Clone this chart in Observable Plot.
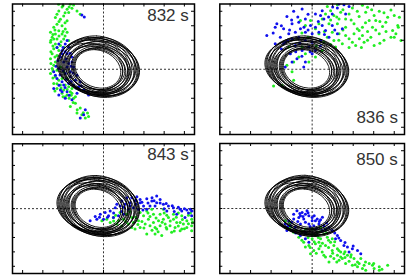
<!DOCTYPE html>
<html><head><meta charset="utf-8">
<script src="https://cdn.jsdelivr.net/npm/d3@7"></script>
<script src="https://cdn.jsdelivr.net/npm/@observablehq/plot@0.6"></script>
<style>
body{margin:0;background:#fff;}
#c{position:relative;width:410px;height:278px;overflow:hidden;background:#fff;}
#c svg{position:absolute;}
</style></head><body><div id="c"></div>
<script>
// Panel labels (time of snapshot)
const labels = ["832 s", "836 s", "843 s", "850 s"];
// Tick values (no labels shown)
const tickValues = [-4, -3, -2, -1, 0, 1, 2, 3, 4];

// Black orbit loops (left, top, right, bottom points of each loop), shared by all panels
const loops = [
  [[-2.30, 0.30], [-0.65, 2.00], [1.20, 0.10], [-0.45, -1.60]],
  [[-2.20, 0.30], [-0.50, 2.20], [1.40, 0.10], [-0.30, -1.80]],
  [[-2.05, 0.30], [-0.35, 2.30], [1.55, 0.10], [-0.15, -1.90]],
  [[-1.95, 0.18], [-0.20, 2.10], [1.75, -0.02], [0.00, -1.94]],
  [[-1.85, 0.12], [-0.20, 1.90], [1.65, -0.08], [0.00, -1.85]],
  [[-1.75, 0.12], [-0.22, 1.75], [1.50, -0.08], [-0.02, -1.70]],
  [[-2.15, 0.22], [-0.70, 1.80], [0.95, 0.02], [-0.50, -1.55]],
  [[-1.60, 0.10], [-0.22, 1.60], [1.35, -0.10], [-0.02, -1.60]],
  [[-1.50, 0.10], [-0.30, 1.45], [1.10, -0.10], [-0.10, -1.45]],
  [[-1.40, 0.12], [-0.38, 1.35], [0.85, -0.08], [-0.18, -1.30]],
  [[-1.90, 0.20], [-0.52, 1.60], [1.05, 0.00], [-0.32, -1.40]],
  [[-2.25, 0.30], [-0.42, 2.15], [1.60, 0.10], [-0.22, -1.75]],
  [[-1.70, 0.18], [-0.06, 1.95], [1.78, -0.02], [0.14, -1.80]],
  [[-1.45, 0.10], [-0.20, 1.50], [1.25, -0.10], [0.00, -1.50]],
  [[-2.10, 0.25], [-0.45, 2.05], [1.30, 0.05], [-0.25, -1.70]],
  [[-1.80, 0.15], [-0.30, 1.70], [1.20, -0.05], [-0.10, -1.65]],
  [[-2.00, 0.20], [-0.15, 2.20], [1.70, 0.00], [0.05, -1.85]],
  [[-1.55, 0.12], [-0.40, 1.40], [0.95, -0.05], [-0.20, -1.40]]
];

// 832 s
const green832 = [[-2.22,4.48],[-1.64,4.48],[-1.48,4.43],[-2.05,4.30],[-1.80,4.14],[-1.56,4.20],[-2.21,4.02],[-1.72,3.91],[-1.97,3.68],[-2.38,3.57],[-2.13,3.45],[-1.80,3.34],[-2.30,3.11],[-2.05,3.00],[-2.46,2.89],[-1.89,2.77],[-2.21,2.66],[-2.62,2.55],[-2.38,2.43],[-2.05,2.43],[-1.80,2.55],[-2.54,2.20],[-2.30,2.09],[-1.97,2.09],[-2.62,1.86],[-2.38,1.75],[-2.13,1.64],[-2.46,1.41],[-2.21,1.30],[-2.54,1.07],[-2.30,0.95],[-2.62,0.73],[-2.38,0.50],[-2.46,0.27],[-2.62,-0.30],[-2.38,-0.52],[-2.21,-0.75],[-2.46,-0.98],[-2.13,-1.09],[-2.30,-1.32],[-1.97,-1.43],[-1.80,-1.77],[-1.56,-1.66],[-1.48,-2.00],[-1.64,-2.57],[-1.15,-2.68],[-1.31,-3.02],[-1.07,-3.14],[-0.74,-3.25],[-0.90,-3.36],[-0.79,-3.02],[-2.13,0.16],[-1.97,-0.18],[-1.80,-0.64],[-1.72,-1.20],[-2.05,-1.66],[-1.89,-1.89],[-1.56,-1.32],[-1.39,-1.89],[-1.15,3.80],[-1.31,4.02],[-2.46,2.09],[-1.97,1.52],[-1.72,1.98],[-2.54,0.05],[-2.30,-0.07],[-2.05,-0.64],[-1.89,-1.09],[-1.64,-1.55],[-1.39,-2.34],
  [-2.0,4.4],[-1.7,4.3],[-2.3,3.8],[-1.9,3.9],[-2.2,3.3],[-1.9,3.2],[-2.4,2.7],[-2.0,2.6],[-2.5,2.4],[-2.2,2.3],[-1.9,2.3],[-2.6,2.0],[-2.1,1.9],[-2.5,1.6],[-2.3,1.5],[-2.6,1.2],[-2.4,0.85],[-2.6,0.4],[-2.5,-0.1],[-2.5,-0.6],[-2.3,-1.0],[-2.1,-1.3],[-1.8,-1.4],[-1.7,-2.0],[-1.5,-2.3],[-1.3,-2.8],[-1.0,-3.0],[-2.4,-1.5],[-2.0,-1.9],[-1.6,-1.8]];
const blue832 = [[-2.21,1.75],[-1.89,1.75],[-1.72,1.52],[-2.05,1.30],[-1.80,1.07],[-1.56,0.84],[-2.13,0.84],[-1.97,0.50],[-1.72,0.39],[-1.48,0.16],[-2.21,0.05],[-2.46,-0.18],[-1.89,-0.30],[-1.64,-0.18],[-1.31,-0.41],[-2.30,-0.64],[-2.05,-0.86],[-1.72,-0.98],[-1.48,-1.09],[-1.23,-1.20],[-0.98,-1.43],[-0.74,-1.77],[-2.13,-1.43],[-1.80,-1.55],[-1.89,-2.00],[-1.56,-2.11],[-2.46,-1.32],[-2.21,-1.77],[-0.90,-2.80],[-0.98,-3.14],[-1.15,-3.36],[-1.64,-0.52],[-1.39,-0.75],[-1.15,-0.86],[-1.07,3.75],[-0.95,3.61],[-2.05,1.07],[-1.80,0.16],[-2.38,-0.41],[-1.97,-1.09],[-1.31,-1.66],[-1.80,1.98],[-1.56,0.50],
  [-2.3,1.5],[-2.0,1.5],[-1.9,1.2],[-1.65,1.1],[-2.25,0.6],[-1.85,0.7],[-1.6,0.2],[-2.35,0.2],[-2.0,-0.1],[-1.5,-0.25],[-2.15,-0.4],[-1.85,-0.7],[-2.2,-1.1],[-1.6,-0.85],[-1.35,-1.3],[-1.9,-1.25],[-1.1,-1.15],[-1.7,-1.8],[-2.05,-1.55],[-0.8,-1.6]];

// 836 s
const green836 = [[0.74,4.32],[1.23,4.45],[1.96,4.22],[2.45,4.41],[2.70,4.27],[3.27,4.00],[3.84,4.09],[4.25,3.58],[4.17,3.01],[3.68,3.58],[3.02,3.70],[2.78,3.36],[2.29,3.63],[1.80,3.81],[1.39,3.93],[1.06,3.70],[0.65,3.81],[0.49,3.47],[0.33,3.13],[0.82,3.13],[1.23,3.13],[1.63,2.90],[2.04,3.13],[2.45,2.90],[2.94,2.90],[3.43,2.95],[3.92,2.67],[4.33,1.99],[3.84,2.21],[3.27,2.44],[2.86,2.21],[2.45,2.33],[2.04,2.44],[1.63,2.33],[1.31,2.44],[0.98,2.56],[0.74,2.21],[1.06,1.99],[1.47,1.76],[1.96,1.87],[2.53,1.87],[3.02,1.64],[2.12,1.64],[0.57,1.87],[0.33,2.44],[0.16,2.79],[-0.08,3.36],[-0.33,3.01],[-0.57,3.36],[0.49,1.30],[0.16,0.84],[-0.16,0.50],[-0.49,1.53],[1.63,3.47],[2.61,3.93],[3.59,3.24],[3.10,3.36],[4.08,2.44],[2.29,2.67],[1.31,3.47],[0.90,4.04],[1.80,2.10],[1.14,1.53],[-1.14,1.53],[-0.90,0.50],[-0.65,0.84],[-0.33,1.07],[-0.98,-0.18],[-1.47,-1.10],[-1.88,-1.16],[-0.90,-0.75],[-1.23,0.27],
  [1.5,4.1],[2.2,4.0],[2.9,4.1],[3.5,3.9],[4.0,3.7],[3.3,3.3],[2.6,3.2],[1.9,3.4],[1.2,3.6],[0.9,3.4],[1.5,2.7],[2.2,2.8],[2.7,2.6],[3.1,2.7],[3.6,2.6],[4.2,2.9],[3.5,2.0],[2.7,2.0],[2.3,2.1],[1.3,2.0],[0.9,1.7],[0.6,2.6],[0.4,2.0],[0.2,1.6],[-0.2,2.2],[-0.5,2.5],[1.8,1.5],[2.4,1.5],[3.3,1.8],[4.0,2.2]];
const blue836 = [[1.31,4.50],[1.55,4.45],[1.23,4.22],[1.80,4.32],[0.49,4.04],[0.16,3.81],[0.41,3.70],[0.57,3.47],[-0.49,4.16],[-0.90,4.00],[-1.23,3.63],[-1.72,3.13],[-1.80,2.90],[-1.39,2.79],[-0.98,3.13],[-0.65,3.24],[-0.33,3.47],[-0.08,3.01],[0.16,2.90],[0.49,3.01],[0.65,2.67],[0.33,2.56],[0.00,2.44],[-0.33,2.56],[-0.57,2.79],[-0.82,2.56],[-1.14,2.44],[-1.55,2.21],[-2.21,2.33],[-1.31,1.87],[-0.98,2.10],[-0.65,2.21],[-0.33,1.99],[0.00,1.87],[0.41,1.99],[0.82,2.21],[1.23,2.44],[1.47,2.79],[0.98,3.01],[-0.82,1.64],[-0.49,1.30],[-0.16,1.53],[0.16,1.30],[-1.06,1.07],[-0.74,0.73],[-0.33,0.50],[-0.98,0.50],[-1.31,0.16],[-0.41,0.16],[0.98,3.81],[1.63,3.81],[-1.39,1.76],[-1.80,1.76],[0.00,1.07],
  [-0.2,3.8],[-0.7,3.6],[-1.0,3.4],[-1.5,3.0],[-1.1,2.7],[-0.4,2.9],[0.3,3.3],[0.8,3.6],[1.0,4.3],[-0.6,1.8],[-1.2,2.0],[-0.1,1.2],[0.4,1.6],[-0.8,1.2],[-1.5,1.4],[-0.5,0.9],[0.6,2.4],[1.1,2.7],[-1.9,2.5],[-0.2,2.7]];

// 843 s
const green843 = [[-0.08,-0.84],[0.16,-0.73],[0.49,-0.62],[0.74,-0.84],[0.99,-0.73],[1.23,-1.07],[1.48,-0.96],[1.73,-0.84],[1.98,-0.50],[2.22,-0.73],[2.47,-0.96],[2.72,-0.84],[2.96,-0.73],[3.21,-0.62],[3.46,-0.73],[3.79,-0.96],[4.12,-0.84],[4.36,-0.73],[4.53,-0.62],[4.36,-1.19],[4.12,-1.30],[3.87,-1.42],[3.54,-1.30],[3.29,-1.19],[3.05,-1.07],[2.80,-1.19],[2.55,-1.30],[2.30,-1.19],[2.06,-1.07],[1.81,-1.30],[1.56,-1.42],[2.14,-1.76],[2.55,-1.76],[2.88,-1.87],[3.37,-1.64],[3.79,-1.53],[4.36,-1.53],[1.81,-0.27],[2.14,-0.16],[2.47,-0.39],[2.80,-0.39],[3.13,-0.46],[3.46,-0.39],[3.87,-0.50],[4.20,-0.46],[1.40,-0.62],[1.15,-0.39],[0.82,-0.27],[2.39,-0.05],[2.63,-1.42],[3.13,-1.42],[1.40,-1.30],[0.66,-1.07],[0.33,-0.96],[3.95,-1.07],[3.62,-0.96],[2.96,-0.05],
  [1.6,-0.6],[1.9,-0.9],[2.3,-0.55],[2.6,-0.65],[2.9,-0.95],[3.3,-0.85],[3.6,-0.6],[3.9,-0.75],[4.2,-1.05],[4.4,-0.95],[3.7,-1.2],[3.1,-1.3],[2.4,-1.5],[2.0,-1.35],[1.7,-1.1],[1.1,-0.9],[0.9,-1.2],[0.5,-0.85],[2.7,-1.6],[3.5,-1.55],[4.0,-1.4],[2.2,-0.3],[3.0,-0.3],[3.7,-0.3],[4.3,-0.3],[1.3,-0.2],[0.6,-0.45]];
const blue843 = [[-0.33,-0.73],[-0.16,-0.39],[0.08,-0.27],[0.33,-0.16],[0.58,0.07],[0.82,0.18],[1.07,0.30],[1.32,0.41],[1.56,0.53],[1.81,0.64],[2.14,0.68],[2.39,0.53],[2.63,0.41],[2.96,0.30],[3.21,0.18],[3.46,0.07],[3.79,-0.05],[4.12,-0.09],[4.36,-0.16],[2.80,0.64],[1.98,0.18],[1.73,-0.05],[1.48,0.07],[1.23,-0.05],[0.99,-0.39],[0.74,-0.50],[0.49,-0.62],[0.25,-0.50],[0.00,-0.73],[0.91,0.53],[1.40,0.75],[2.30,0.18],[3.13,-0.16],[3.62,-0.39],[4.03,-0.62],[4.36,-0.50],[3.87,-0.16],[2.55,0.18],[1.81,0.41],[2.14,-0.05],[0.66,0.30],[1.15,0.75],[1.65,0.82],[2.63,0.87],[4.53,-0.16],[-0.66,-0.84],[-0.41,-0.55],
  [1.0,0.1],[1.3,0.2],[1.6,0.3],[1.9,0.45],[2.2,0.4],[2.5,0.55],[2.8,0.4],[3.1,0.35],[3.4,0.2],[3.7,0.1],[4.0,0.0],[4.3,-0.05],[2.4,0.75],[1.6,0.6],[0.5,-0.3],[0.2,-0.6],[-0.2,-0.6],[0.9,-0.2],[1.95,-0.1],[3.0,0.0],[3.5,-0.2],[4.2,-0.3]];

// 850 s
const green850 = [[-1.31,-0.84],[-1.06,-1.30],[-0.90,-1.64],[-0.65,-1.99],[-0.41,-2.33],[-0.33,-2.67],[-0.16,-2.56],[0.00,-2.10],[0.16,-1.87],[0.41,-2.10],[0.57,-1.76],[0.74,-1.99],[0.90,-2.33],[1.06,-2.56],[1.23,-2.79],[1.39,-3.01],[1.55,-3.13],[1.72,-3.24],[1.88,-3.36],[2.04,-3.47],[2.21,-3.70],[2.37,-3.47],[2.53,-3.93],[2.78,-3.81],[3.02,-4.16],[3.27,-4.04],[3.68,-3.93],[3.27,-4.27],[2.61,-4.27],[1.96,-3.93],[1.63,-3.81],[1.31,-3.58],[1.06,-3.47],[0.82,-3.70],[0.65,-3.36],[0.49,-3.01],[0.33,-2.79],[0.08,-2.90],[-0.08,-3.13],[0.16,-2.44],[0.33,-2.33],[0.65,-2.56],[0.98,-2.90],[1.23,-3.24],[1.47,-3.47],[1.80,-3.65],[2.21,-4.04],[0.98,-2.10],[0.41,-1.30],[0.65,-1.42],[-0.33,-1.42],[0.00,-1.42],[0.25,-1.64],[0.57,-3.24],[1.39,-3.36],[2.45,-4.16],[2.94,-3.93],[2.29,-3.81],
  [-1.1,-1.0],[-0.8,-1.5],[-0.5,-1.6],[-0.5,-2.2],[-0.2,-2.0],[0.1,-2.3],[0.3,-2.0],[0.5,-2.4],[0.8,-2.2],[0.8,-2.7],[1.0,-3.1],[1.3,-2.9],[1.6,-3.4],[1.9,-3.2],[2.1,-3.9],[2.6,-3.7],[3.0,-3.8],[3.4,-4.2],[0.4,-2.6],[0.2,-3.1],[0.9,-3.3],[1.2,-3.7],[0.0,-1.8],[0.4,-1.6],[0.7,-1.7],[1.1,-2.3],[-0.1,-2.7],[1.6,-3.0]];
const blue850 = [[-0.74,-0.16],[-0.49,-0.27],[-0.33,-0.39],[-0.16,-0.50],[0.00,-0.62],[0.25,-0.73],[0.41,-0.78],[-0.65,-0.62],[-0.41,-0.73],[-0.90,-0.73],[-1.14,-0.84],[-1.31,-1.07],[-1.06,-1.19],[-0.82,-1.30],[-0.57,-1.07],[-0.33,-0.96],[-0.16,-1.07],[0.08,-1.19],[0.33,-1.07],[0.57,-1.19],[0.82,-1.30],[0.98,-1.53],[1.23,-1.87],[1.39,-2.21],[1.55,-2.56],[1.72,-2.67],[1.96,-2.79],[2.21,-2.90],[2.37,-3.13],[-0.33,-1.64],[-0.57,-1.87],[-0.98,-1.53],[-1.23,-1.53],[0.49,-1.53],[0.16,-0.84],[-0.25,-0.16],[-0.57,-0.50],[-0.33,-2.10],[-0.16,-2.33],[1.14,-2.10],[1.80,-3.01],
  [-0.9,-0.4],[-0.6,-0.35],[-0.2,-0.3],[0.1,-0.5],[0.5,-0.6],[-1.0,-0.95],[-0.7,-0.9],[-0.45,-0.55],[0.0,-0.85],[0.35,-0.9],[0.7,-1.0],[0.65,-1.45],[1.1,-1.7],[1.3,-2.05],[1.6,-2.35],[2.0,-2.6],[-0.1,-1.25],[-0.8,-1.7],[-1.2,-1.25],[0.2,-1.4]];

const loopTable = loops.flatMap((pts, i) => pts.map(([x, y]) => ({loop: i, x, y})));

const panels = [
  {label: labels[0], green: green832, blue: blue832, left: 10, top: 1, width: 186, height: 135, mt: 2.5, mb: 2, ml: 2, mr: 2, anchor: "top-right", dx: -5.7, dy: 5},
  {label: labels[1], green: green836, blue: blue836, left: 217, top: 1, width: 189, height: 135, mt: 2.5, mb: 2, ml: 2.3, mr: 2, anchor: "bottom-right", dx: -6.5, dy: -12},
  {label: labels[2], green: green843, blue: blue843, left: 10, top: 141, width: 186, height: 134, mt: 2.3, mb: 2, ml: 2, mr: 2, anchor: "top-right", dx: -5.7, dy: 4},
  {label: labels[3], green: green850, blue: blue850, left: 217, top: 141, width: 189, height: 134, mt: 2, mb: 2, ml: 2.3, mr: 2, anchor: "top-right", dx: -6.7, dy: 9}
];

const container = document.getElementById("c");
for (const p of panels) {
  const innerH = p.height - p.mt - p.mb;
  const innerW = p.width - p.ml - p.mr;
  const tk = 3;
  const chart = Plot.plot({
    width: p.width, height: p.height,
    marginTop: p.mt, marginBottom: p.mb, marginLeft: p.ml, marginRight: p.mr,
    x: {domain: [-4.5, 4.5], axis: null},
    y: {domain: [-4.5, 4.5], axis: null},
    style: {fontFamily: "'Liberation Sans', Arial, Helvetica, sans-serif", background: "transparent"},
    marks: [
      Plot.ruleX([0], {stroke: "#333", strokeWidth: 1, strokeDasharray: "2,2"}),
      Plot.ruleY([0], {stroke: "#333", strokeWidth: 1, strokeDasharray: "2,2"}),
      Plot.dot(p.green, {x: d => d[0], y: d => d[1], r: 1.5, fill: "#22ee22", stroke: "none", clip: true}),
      Plot.dot(p.blue, {x: d => d[0], y: d => d[1], r: 1.5, fill: "#1010ee", stroke: "none", clip: true}),
      Plot.line(loopTable, {x: "x", y: "y", z: "loop", curve: "cardinal-closed", tension: -0.65, stroke: "black", strokeWidth: 0.9}),
      Plot.tickX(tickValues, {x: d => d, insetTop: innerH - tk, stroke: "black", strokeWidth: 1}),
      Plot.tickX(tickValues, {x: d => d, insetBottom: innerH - tk, stroke: "black", strokeWidth: 1}),
      Plot.tickY(tickValues, {y: d => d, insetRight: innerW - tk, stroke: "black", strokeWidth: 1}),
      Plot.tickY(tickValues, {y: d => d, insetLeft: innerW - tk, stroke: "black", strokeWidth: 1}),
      Plot.frame({stroke: "black", strokeWidth: 1.5}),
      Plot.text([p.label], {text: d => d, frameAnchor: p.anchor, textAnchor: "end", lineAnchor: p.anchor.startsWith("top") ? "top" : "bottom", dx: p.dx, dy: p.dy, fontSize: 17, fill: "#333"})
    ]
  });
  chart.style.left = p.left + "px";
  chart.style.top = p.top + "px";
  container.appendChild(chart);
}
</script>
</body></html>
